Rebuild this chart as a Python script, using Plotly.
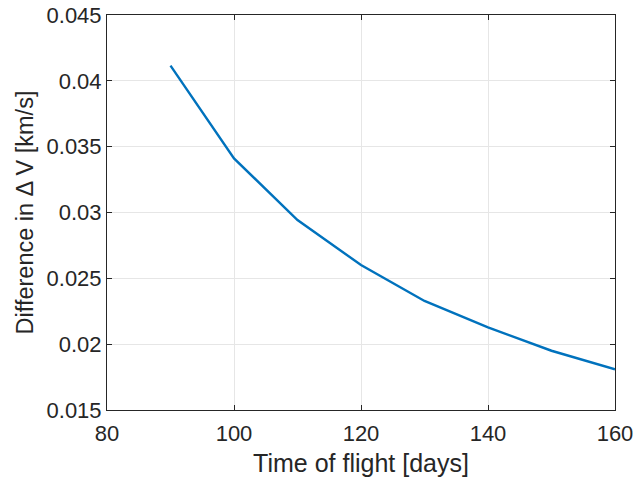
import plotly.graph_objects as go

# Time of flight [days] and the corresponding difference in delta-V [km/s]
tof_days = [90, 100, 110, 120, 130, 140, 150, 160]
delta_v_diff = [0.04115, 0.03411, 0.02943, 0.02601, 0.02328, 0.02128, 0.01950, 0.01809]

x_ticks = [80, 100, 120, 140, 160]
y_ticks = [0.015, 0.02, 0.025, 0.03, 0.035, 0.04, 0.045]
y_tick_text = ["0.015", "0.02", "0.025", "0.03", "0.035", "0.04", "0.045"]

axis_color = "#262626"
grid_color = "#e6e6e6"
font_family = "Liberation Sans, Arial, sans-serif"

fig = go.Figure()
fig.add_trace(go.Scatter(
    x=tof_days, y=delta_v_diff, mode="lines",
    line=dict(color="#0072BD", width=2.4),
    showlegend=False,
))

common_axis = dict(
    automargin=False,
    showline=True, linecolor=axis_color, linewidth=1, mirror="ticks",
    ticks="inside", ticklen=5, tickcolor=axis_color, tickwidth=1,
    showgrid=True, gridcolor=grid_color, gridwidth=1,
    zeroline=False,
    tickfont=dict(family=font_family, size=22, color=axis_color),
)

fig.update_xaxes(
    range=[80, 160], tickvals=x_ticks, ticklabelstandoff=4,
    title=dict(text="Time of flight [days]", standoff=9,
               font=dict(family=font_family, size=25, color=axis_color)),
    **common_axis,
)
fig.update_yaxes(
    range=[0.015, 0.045], tickvals=y_ticks, ticktext=y_tick_text,
    title=dict(text="Difference in \u0394 V [km/s]", standoff=6,
               font=dict(family=font_family, size=23.5, color=axis_color)),
    **common_axis,
)

fig.update_layout(
    width=636, height=485,
    margin=dict(l=107, r=21, t=15, b=75),
    paper_bgcolor="white", plot_bgcolor="white",
    font=dict(family=font_family, color=axis_color),
)

fig.write_html("out.html")
